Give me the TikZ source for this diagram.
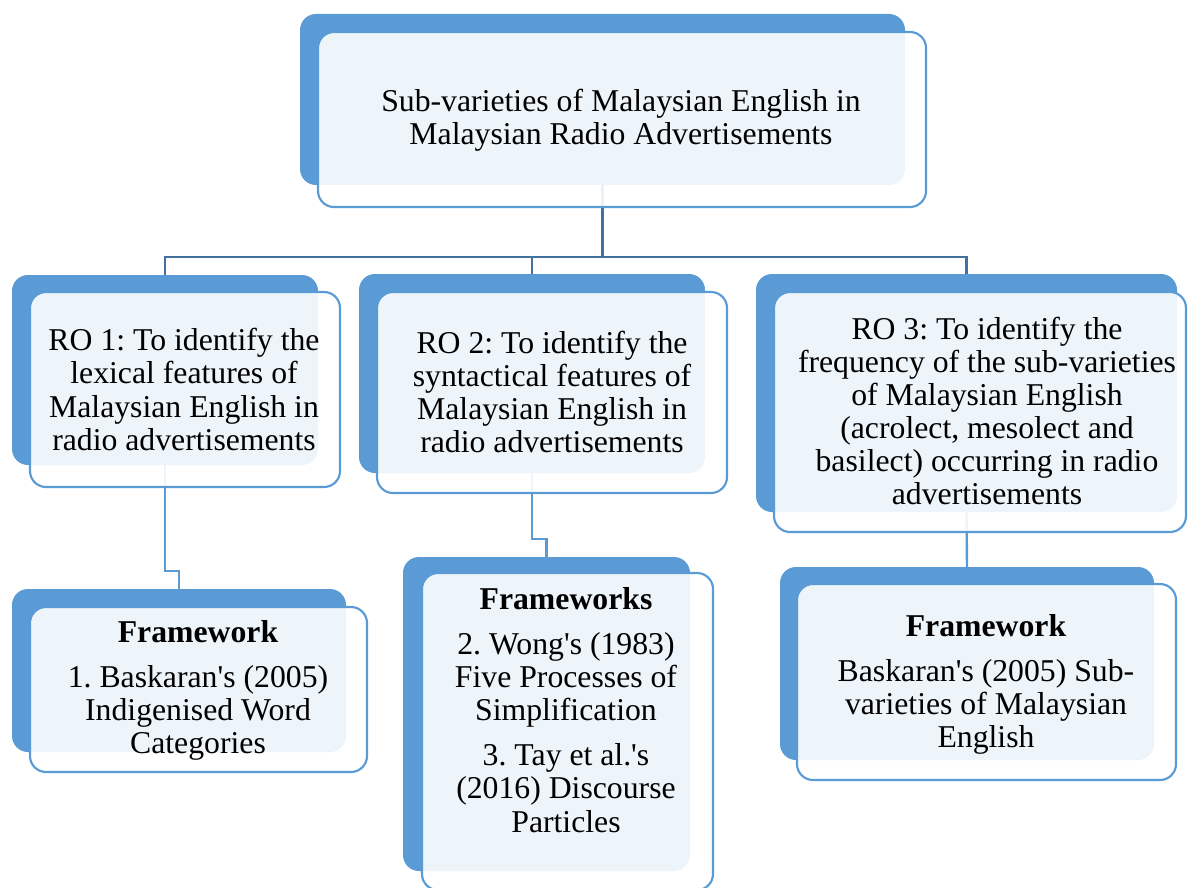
\documentclass[tikz,border=0pt]{standalone}
\usepackage{fontspec}
\setmainfont{Liberation Serif}
\usetikzlibrary{fit,backgrounds}
\definecolor{accent}{HTML}{5B9BD5}
\definecolor{linkdark}{HTML}{41719C}
\newcommand{\myapos}{\textquotesingle}
\begin{document}
\begin{tikzpicture}[x=0.75pt,y=-0.75pt,
  backbox/.style={rectangle, fill=accent, rounded corners=12pt, inner sep=0pt, outer sep=0pt},
  frontbox/.style={rectangle, draw=accent, line width=1.6pt, fill=white, fill opacity=0.9, rounded corners=12pt, inner sep=0pt, outer sep=0pt},
  lbl/.style={align=center, text=black, font=\fontsize{23.8}{24.8}\selectfont\frenchspacing, inner sep=0pt},
  toplink/.style={draw=linkdark, line width=2.2pt},
  sublink/.style={draw=accent, line width=1.8pt}]
\useasboundingbox (0,0) rectangle (1188,888);

% back boxes
\node[backbox, fit={(300,14) (905,185)}] (b0) {};
\node[backbox, fit={(12,275) (318,465)}] (b1) {};
\node[backbox, fit={(359,274) (705,473)}] (b2) {};
\node[backbox, fit={(756,274) (1177,512)}] (b3) {};
\node[backbox, fit={(12,589) (346,752)}] (b4) {};
\node[backbox, fit={(403,557) (690,871)}] (b5) {};
\node[backbox, fit={(780,567) (1154,760)}] (b6) {};

% front boxes
\node[frontbox, fit={(318,32) (926,207)}] (f0) {};
\node[frontbox, fit={(30,292) (340,487)}] (f1) {};
\node[frontbox, fit={(377,292) (727,493)}] (f2) {};
\node[frontbox, fit={(774,292) (1186,532)}] (f3) {};
\node[frontbox, fit={(30,607) (367,772)}] (f4) {};
\node[frontbox, fit={(422,573) (713,890)}] (f5) {};
\node[frontbox, fit={(797,584) (1176,780)}] (f6) {};

% texts
\node[lbl] (t0) at (621,120) {Sub-varieties of Malaysian English in\\Malaysian Radio Advertisements};
\node[lbl] (t1) at (184,389.5) {RO 1: To identify the\\lexical features of\\Malaysian English in\\radio advertisements};
\node[lbl] (t2) at (552,392) {RO 2: To identify the\\syntactical features of\\Malaysian English in\\radio advertisements};
\node[lbl] (t3) at (987,411) {RO 3: To identify the\\frequency of the sub-varieties\\of Malaysian English\\(acrolect, mesolect and\\basilect) occurring in radio\\advertisements};
\node[lbl] (t4) at (198,690.5) {\textbf{Framework}\\[9pt]1. Baskaran\myapos s (2005)\\Indigenised Word\\Categories};
\node[lbl] (t5) at (566,710) {\textbf{Frameworks}\\[9pt]2. Wong\myapos s (1983)\\Five Processes of\\Simplification\\[9pt]3. Tay et al.\myapos s\\(2016) Discourse\\Particles};
\node[lbl] (t6) at (986,684.5) {\textbf{Framework}\\[9pt]Baskaran\myapos s (2005) Sub-\\varieties of Malaysian\\English};

% connectors
\coordinate (hbar) at (0,257);
\coordinate (j1) at (0,571);
\coordinate (j2) at (0,539);
\begin{scope}[on background layer]
\draw[toplink] (b0.south) |- (b1.north |- hbar) -- (b1.north);
\draw[toplink] (b0.south) |- (b2.north |- hbar) -- (b2.north);
\draw[toplink] (b0.south) |- (b3.north |- hbar) -- (b3.north);
\draw[sublink] (b1.south) -- (b1.south |- j1) -| (b4.north);
\draw[sublink] (b2.south) -- (b2.south |- j2) -| (b5.north);
\draw[sublink] (b3.south) -- (b6.north);
\end{scope}
\end{tikzpicture}
\end{document}
